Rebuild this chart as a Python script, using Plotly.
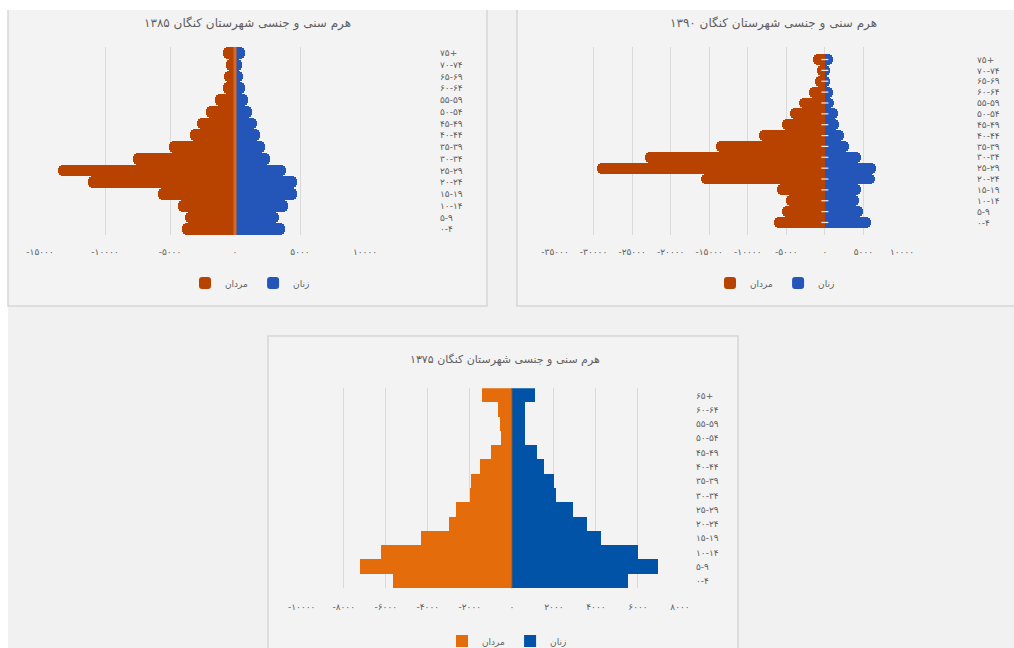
import plotly.graph_objects as go

# ---------------- data ----------------
ages16 = ["۰-۴", "۵-۹", "۱۰-۱۴", "۱۵-۱۹", "۲۰-۲۴", "۲۵-۲۹", "۳۰-۳۴", "۳۵-۳۹",
          "۴۰-۴۴", "۴۵-۴۹", "۵۰-۵۴", "۵۵-۵۹", "۶۰-۶۴", "۶۵-۶۹", "۷۰-۷۴", "۷۵+"]
ages14 = ["۰-۴", "۵-۹", "۱۰-۱۴", "۱۵-۱۹", "۲۰-۲۴", "۲۵-۲۹", "۳۰-۳۴", "۳۵-۳۹",
          "۴۰-۴۴", "۴۵-۴۹", "۵۰-۵۴", "۵۵-۵۹", "۶۰-۶۴", "۶۵+"]

men_1385 = [4100, 3840, 4350, 5940, 11340, 13600, 7860, 5040, 3460, 2950, 2230, 1540, 950, 850, 690, 900]
women_1385 = [3840, 3400, 4100, 4740, 4740, 3920, 2690, 2300, 1920, 1660, 1280, 1020, 770, 640, 510, 770]

men_1390 = [6610, 5520, 5090, 6180, 16100, 29580, 23360, 14090, 8570, 5520, 4520, 3350, 2040, 1300, 1040, 1480]
women_1390 = [6000, 4920, 4480, 4700, 6440, 6660, 4700, 3180, 2520, 1870, 1650, 1220, 1000, 700, 700, 1000]

men_1375 = [5670, 7250, 6220, 4330, 2990, 2680, 2000, 1970, 1530, 1020, 550, 580, 680, 1420]
women_1375 = [5510, 6930, 5990, 4250, 3540, 2910, 2090, 1970, 1500, 1180, 630, 630, 630, 1100]

ticks_1385 = [-15000, -10000, -5000, 0, 5000, 10000]
ticks_1390 = [-35000, -30000, -25000, -20000, -15000, -10000, -5000, 0, 5000, 10000]
ticks_1375 = [-10000, -8000, -6000, -4000, -2000, 0, 2000, 4000, 6000, 8000]

title_1385 = "هرم سنی و جنسی شهرستان کنگان ۱۳۸۵"
title_1390 = "هرم سنی و جنسی شهرستان کنگان ۱۳۹۰"
title_1375 = "هرم سنی و جنسی شهرستان کنگان ۱۳۷۵"
name_men = "مردان"
name_women = "زنان"

# ---------------- helpers ----------------
W, H = 1014, 648
FA = str.maketrans("0123456789", "۰۱۲۳۴۵۶۷۸۹")


def fa(n):
    s = str(abs(n)).translate(FA)
    return ("-" + s) if n < 0 else s


def px(x):
    return x / W


def py(y):
    return 1 - y / H


FONT = "DejaVu Sans, Noto Sans, sans-serif"
TXT = "#5f5f5f"
GRID = "#d9d9d9"

fig = go.Figure()

panels = [
    # (ages, men, women, axis suffix, legend, men colour, women colour, radius)
    (ages16, men_1385, women_1385, "", "legend", "#b84300", "#2356b8", 5),
    (ages16, men_1390, women_1390, "2", "legend2", "#b84300", "#2356b8", 5),
    (ages14, men_1375, women_1375, "3", "legend3", "#e46c0a", "#0053a6", 0),
]

for ages, men, women, sfx, lg, cm, cw, rad in panels:
    fig.add_trace(go.Bar(
        y=ages, x=[-v for v in men], orientation="h", name=name_men,
        marker=dict(color=cm, line=dict(width=0), cornerradius=rad),
        xaxis="x" + sfx, yaxis="y" + sfx, legend=lg))
    fig.add_trace(go.Bar(
        y=ages, x=women, orientation="h", name=name_women,
        marker=dict(color=cw, line=dict(width=0), cornerradius=rad),
        xaxis="x" + sfx, yaxis="y" + sfx, legend=lg))

# zero line of the 1390 chart: orange segment per age group with light tick marks
fig.add_trace(go.Scatter(
    y=ages16, x=[0] * len(ages16), mode="markers", showlegend=False,
    marker=dict(symbol="line-ew", size=5, line=dict(color="#fde9d8", width=1.2)),
    error_y=dict(type="constant", value=0.5, color="#e07a2e", thickness=5, width=0),
    xaxis="x2", yaxis="y2", hoverinfo="skip"))


def xaxis(dom, rng, ticks, anchor, standoff):
    return dict(domain=[px(dom[0]), px(dom[1])], range=rng, anchor=anchor,
                tickmode="array", tickvals=ticks, ticktext=[fa(t) for t in ticks],
                showgrid=True, gridcolor=GRID, gridwidth=1.2, zeroline=False,
                showline=False, ticks="", fixedrange=True, automargin=False,
                tickfont=dict(family=FONT, size=9, color=TXT),
                ticklabelstandoff=standoff)


def yaxis(dom, anchor, standoff, ages):
    return dict(domain=[py(dom[1]), py(dom[0])], anchor=anchor, type="category",
                tickmode="array", tickvals=ages, ticktext=ages,
                side="right", showgrid=False, zeroline=False, showline=False,
                ticks="", fixedrange=True, automargin=False,
                tickfont=dict(family=FONT, size=9, color=TXT),
                ticklabelstandoff=standoff)


def legend(xc, yc):
    return dict(orientation="h", x=px(xc), y=py(yc), xanchor="center", yanchor="middle",
                bgcolor="rgba(0,0,0,0)", itemwidth=30,
                font=dict(family=FONT, size=9, color=TXT))


shapes = [
    dict(type="rect", xref="paper", yref="paper", x0=px(0), x1=px(W), y0=py(0), y1=py(H),
         fillcolor="#ffffff", line=dict(width=0), layer="below"),
    dict(type="rect", xref="paper", yref="paper", x0=px(8), x1=px(W), y0=py(10), y1=py(H),
         fillcolor="#f1f1f1", line=dict(width=0), layer="below"),
    dict(type="rect", xref="paper", yref="paper", x0=px(8), x1=px(487), y0=py(0), y1=py(306),
         fillcolor="#f3f3f3", line=dict(color="#d6d6d6", width=1.5), layer="below"),
    dict(type="rect", xref="paper", yref="paper", x0=px(517), x1=px(W + 4), y0=py(0), y1=py(306),
         fillcolor="#f3f3f3", line=dict(color="#d6d6d6", width=1.5), layer="below"),
    dict(type="rect", xref="paper", yref="paper", x0=px(268), x1=px(738), y0=py(336), y1=py(H + 4),
         fillcolor="#f3f3f3", line=dict(color="#d6d6d6", width=1.5), layer="below"),
    dict(type="rect", xref="paper", yref="paper", x0=px(0), x1=px(W), y0=py(0), y1=py(10),
         fillcolor="#ffffff", line=dict(width=0), layer="below"),
    # zero lines
    dict(type="line", xref="x", yref="y domain", x0=0, x1=0, y0=0, y1=1,
         line=dict(color="#d56a20", width=3), layer="above"),
    dict(type="line", xref="x3", yref="y3 domain", x0=0, x1=0, y0=0, y1=1,
         line=dict(color="#9a5a2c", width=1), layer="above"),
]


def title(text, xc, yc, size):
    return dict(text=text, x=px(xc), y=py(yc), xref="paper", yref="paper", showarrow=False,
                xanchor="center", yanchor="middle",
                font=dict(family=FONT, size=size, color=TXT))


annotations = [
    title(title_1385, 247, 23, 12),
    title(title_1390, 773, 23, 12),
    title(title_1375, 505, 359, 11),
]

fig.update_layout(
    width=W, height=H, margin=dict(l=0, r=0, t=0, b=0, autoexpand=False),
    paper_bgcolor="#ffffff", plot_bgcolor="rgba(0,0,0,0)",
    barmode="relative", bargap=0,
    font=dict(family=FONT, color=TXT),
    xaxis=xaxis((40, 365), [-15000, 10000], ticks_1385, "y", 10),
    yaxis=yaxis((47, 235), "x", 74, ages16),
    xaxis2=xaxis((555, 902), [-35000, 10000], ticks_1390, "y2", 10),
    yaxis2=yaxis((47, 235), "x2", 74, ages16),
    xaxis3=xaxis((301.7, 680), [-10000, 8000], ticks_1375, "y3", 12),
    yaxis3=yaxis((388.3, 588.3), "x3", 15, ages14),
    legend=legend(250, 283),
    legend2=legend(775, 283),
    legend3=legend(507, 641),
    shapes=shapes,
    annotations=annotations,
    showlegend=True,
    hovermode=False,
)

fig.write_html("out.html", config={"displayModeBar": False},
               post_script="document.body.style.margin='0';document.body.style.overflow='hidden';")
